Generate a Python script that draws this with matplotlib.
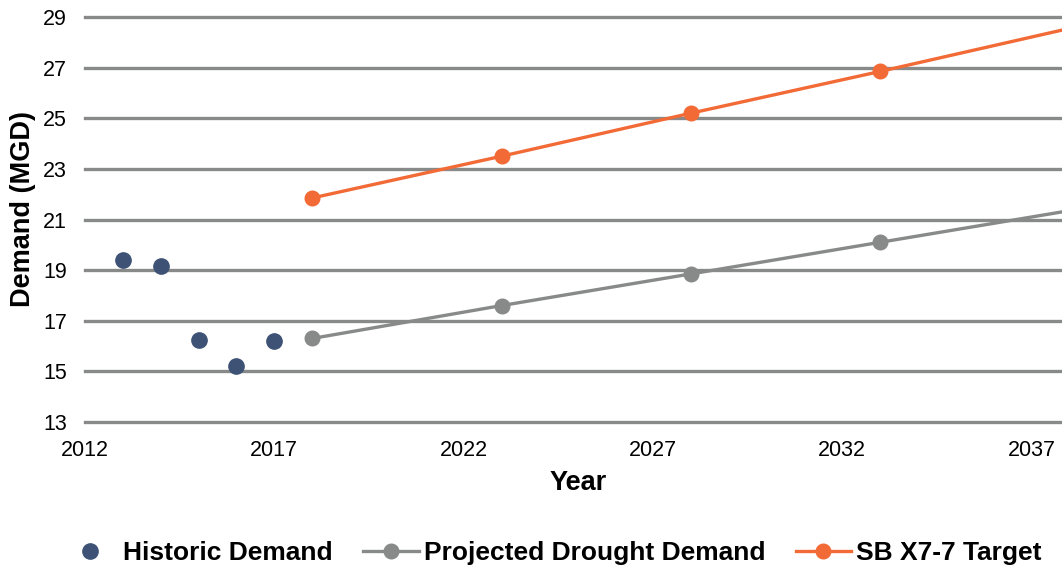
import matplotlib
matplotlib.use("Agg")
import matplotlib.pyplot as plt

plt.rcParams["font.family"] = ["Liberation Sans", "DejaVu Sans"]

# Demand series (MGD)
hist_years = [2013, 2014, 2015, 2016, 2017]
hist_demand = [19.4, 19.15, 16.25, 15.2, 16.2]

proj_years = [2018, 2023, 2028, 2033, 2038]
proj_demand = [16.3, 17.6, 18.85, 20.1, 21.35]

target_years = [2018, 2023, 2028, 2033, 2038]
target_demand = [21.85, 23.5, 25.2, 26.85, 28.55]

x_ticks = [2012, 2017, 2022, 2027, 2032, 2037]
y_ticks = [13, 15, 17, 19, 21, 23, 25, 27, 29]

NAVY = "#3d5275"
GRAY = "#888a8a"
ORANGE = "#f26a36"

fig = plt.figure(figsize=(10.62, 5.69), dpi=100)
ax = fig.add_axes([85 / 1062, 1 - 422 / 569, 1 - 85 / 1062, (422 - 17) / 569])

ax.plot(hist_years, hist_demand, "o", color=NAVY, markersize=11,
        label="Historic Demand", zorder=5)
ax.plot(proj_years, proj_demand, "o-", color=GRAY, linewidth=2.4,
        markersize=10.5, label="Projected Drought Demand", zorder=4)
ax.plot(target_years, target_demand, "o-", color=ORANGE, linewidth=2.4,
        markersize=10.5, label="SB X7-7 Target", zorder=4)

ax.set_xlim(2012, 2037.8)
ax.set_ylim(13, 29)
ax.set_xticks(x_ticks)
ax.set_yticks(y_ticks)
ax.tick_params(length=0, labelsize=15.5)
ax.tick_params(axis="x", pad=13.3)
ax.tick_params(axis="y", pad=13)
for s in ax.spines.values():
    s.set_visible(False)
ax.yaxis.grid(True, color=GRAY, linewidth=2.4)
ax.set_axisbelow(True)
# keep the 13 and 29 lines at full width
for gl in ax.get_ygridlines():
    gl.set_clip_on(False)

ax.set_xlabel("Year", fontsize=19.5, fontweight="bold", va="center")
ax.set_ylabel("Demand (MGD)", fontsize=19.5, fontweight="bold", va="center")
ax.xaxis.set_label_coords(0.505, -0.151)
ax.yaxis.set_label_coords(-0.0635, 0.526)

fig.legend(loc="lower center", bbox_to_anchor=(0.52, -0.035), ncol=3,
           frameon=False, prop={"size": 19, "weight": "bold"},
           handlelength=2.1, columnspacing=1.15, handletextpad=0.2)

fig.savefig("out.png", dpi=100)
